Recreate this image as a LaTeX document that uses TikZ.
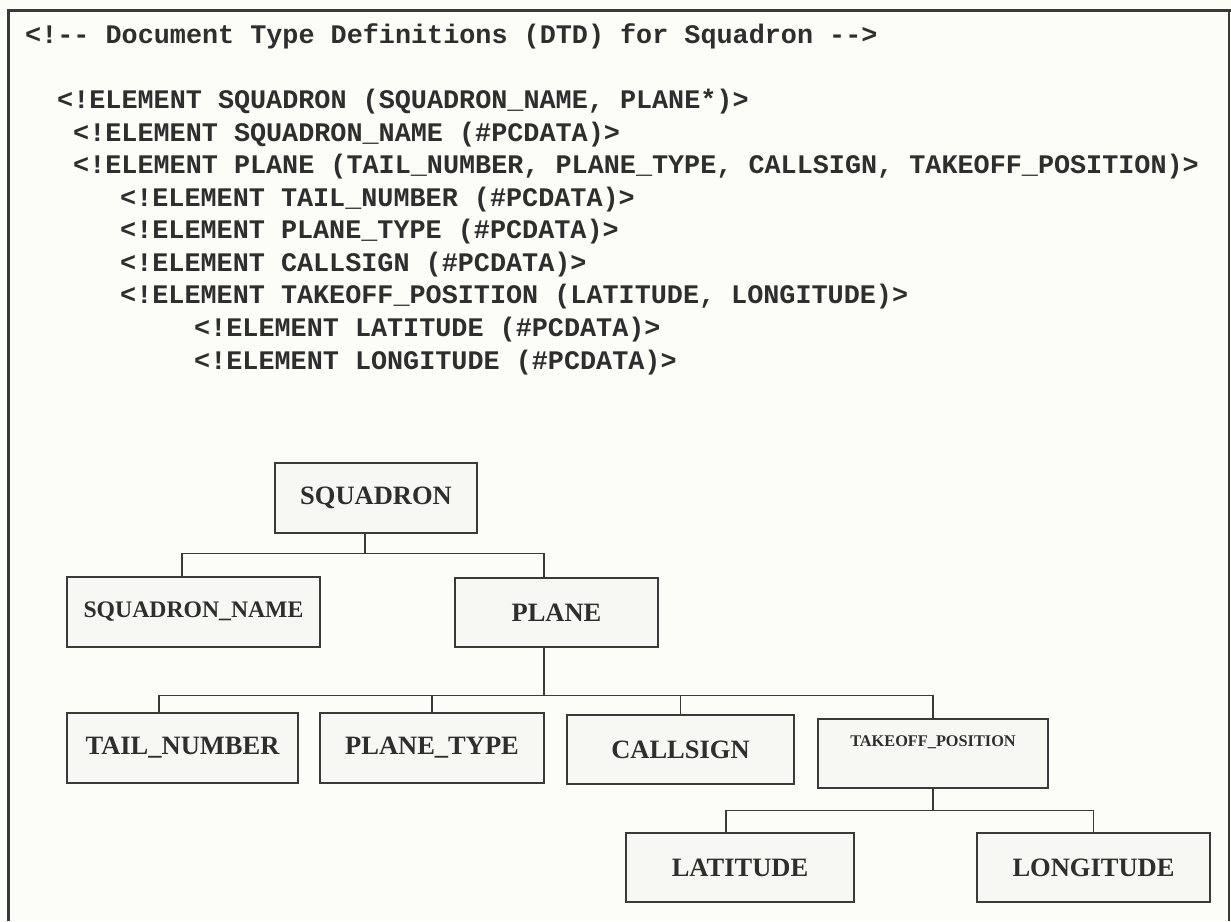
\documentclass[tikz,border=0pt]{standalone}
\usepackage{fontspec}
\setmainfont{Liberation Serif}
\newfontfamily\dtdmono{Liberation Mono}
\definecolor{bgc}{HTML}{FDFDF8}
\definecolor{inkc}{HTML}{2E2E2E}
\definecolor{linec}{HTML}{3A3A3A}
\definecolor{boxfill}{HTML}{F7F7F3}
\tikzset{
  codeline/.style={anchor=base west, inner sep=0pt, text=inkc,
    font=\dtdmono\bfseries\fontsize{26.8}{30}\selectfont},
  elbox/.style={draw=linec, line width=1.4pt, fill=boxfill, inner sep=0pt,
    text=inkc, font=\bfseries\fontsize{26.5}{30}\selectfont},
  conn/.style={draw=linec, line width=1.3pt},
  frame/.style={draw=linec, line width=3pt},
}
\begin{document}
\begin{tikzpicture}[x=1pt,y=-1pt]
\useasboundingbox (0,0) rectangle (1231,921);
\fill[bgc] (0,0) rectangle (1231,921);
% frame
\draw[frame] (8,921) -- (8,10) -- (1231,10);
\draw[draw=linec, line width=1.5pt] (1229,10) -- (1229,921);

% DTD text
\node[codeline] (t0) at (25,43) {<!-{}- Document Type Definitions (DTD) for Squadron -{}->};
\node[codeline] (t1) at (57,108) {<!ELEMENT SQUADRON (SQUADRON\_NAME, PLANE*)>};
\node[codeline] (t2) at (73,141) {<!ELEMENT SQUADRON\_NAME (\#PCDATA)>};
\node[codeline] (t3) at (73,173) {<!ELEMENT PLANE (TAIL\_NUMBER, PLANE\_TYPE, CALLSIGN, TAKEOFF\_POSITION)>};
\node[codeline] (t4) at (120,206) {<!ELEMENT TAIL\_NUMBER (\#PCDATA)>};
\node[codeline] (t5) at (120,238) {<!ELEMENT PLANE\_TYPE (\#PCDATA)>};
\node[codeline] (t6) at (120,271) {<!ELEMENT CALLSIGN (\#PCDATA)>};
\node[codeline] (t7) at (120,303) {<!ELEMENT TAKEOFF\_POSITION (LATITUDE, LONGITUDE)>};
\node[codeline] (t8) at (194,336) {<!ELEMENT LATITUDE (\#PCDATA)>};
\node[codeline] (t9) at (194,369) {<!ELEMENT LONGITUDE (\#PCDATA)>};

% tree boxes
\node[elbox, minimum width=202pt, minimum height=70pt] (sq) at (376,498) {SQUADRON};
\node[elbox, minimum width=253pt, minimum height=70pt,
      font=\bfseries\fontsize{23.7}{28}\selectfont] (sqn) at (193.5,612) {\raisebox{5pt}{SQUADRON\_NAME}};
\node[elbox, minimum width=203pt, minimum height=69pt] (pl) at (556.5,612.5) {PLANE};
\node[elbox, minimum width=231pt, minimum height=70pt] (tn) at (182.5,748) {TAIL\_NUMBER};
\node[elbox, minimum width=224pt, minimum height=70pt] (pt) at (432,748) {PLANE\_TYPE};
\node[elbox, minimum width=227pt, minimum height=69pt] (cs) at (680.5,749.5) {CALLSIGN};
\node[elbox, minimum width=230pt, minimum height=69pt] (tp) at (933,753.5) {};
\node[text=inkc, inner sep=0pt, font=\bfseries\fontsize{16.3}{20}\selectfont] (tpt)
      at ([yshift=11.5pt]tp.center) {TAKEOFF\_POSITION};
\node[elbox, minimum width=228pt, minimum height=69pt] (lat) at (740,867.5) {LATITUDE};
\node[elbox, minimum width=233pt, minimum height=69pt] (lon) at (1093.5,867.5) {LONGITUDE};

% connectors
\draw[conn] ([xshift=-11pt]sq.south) -- ++(0,20) coordinate (j1);
\draw[conn] ([xshift=-11.5pt]sqn.north) |- (j1) -| ([xshift=-12.5pt]pl.north);
\draw[conn] ([xshift=-12.5pt]pl.south) -- ++(0,48) coordinate (j2);
\draw[conn] ([xshift=-23.5pt]tn.north) |- (j2) -| (tp.north);
\draw[conn] (pt.north) -- (pt.north |- j2);
\draw[conn] (cs.north) -- (cs.north |- j2);
\draw[conn] (tp.south) -- ++(0,22) coordinate (j3);
\draw[conn] ([xshift=-14pt]lat.north) |- (j3) -| (lon.north);
\end{tikzpicture}
\end{document}
